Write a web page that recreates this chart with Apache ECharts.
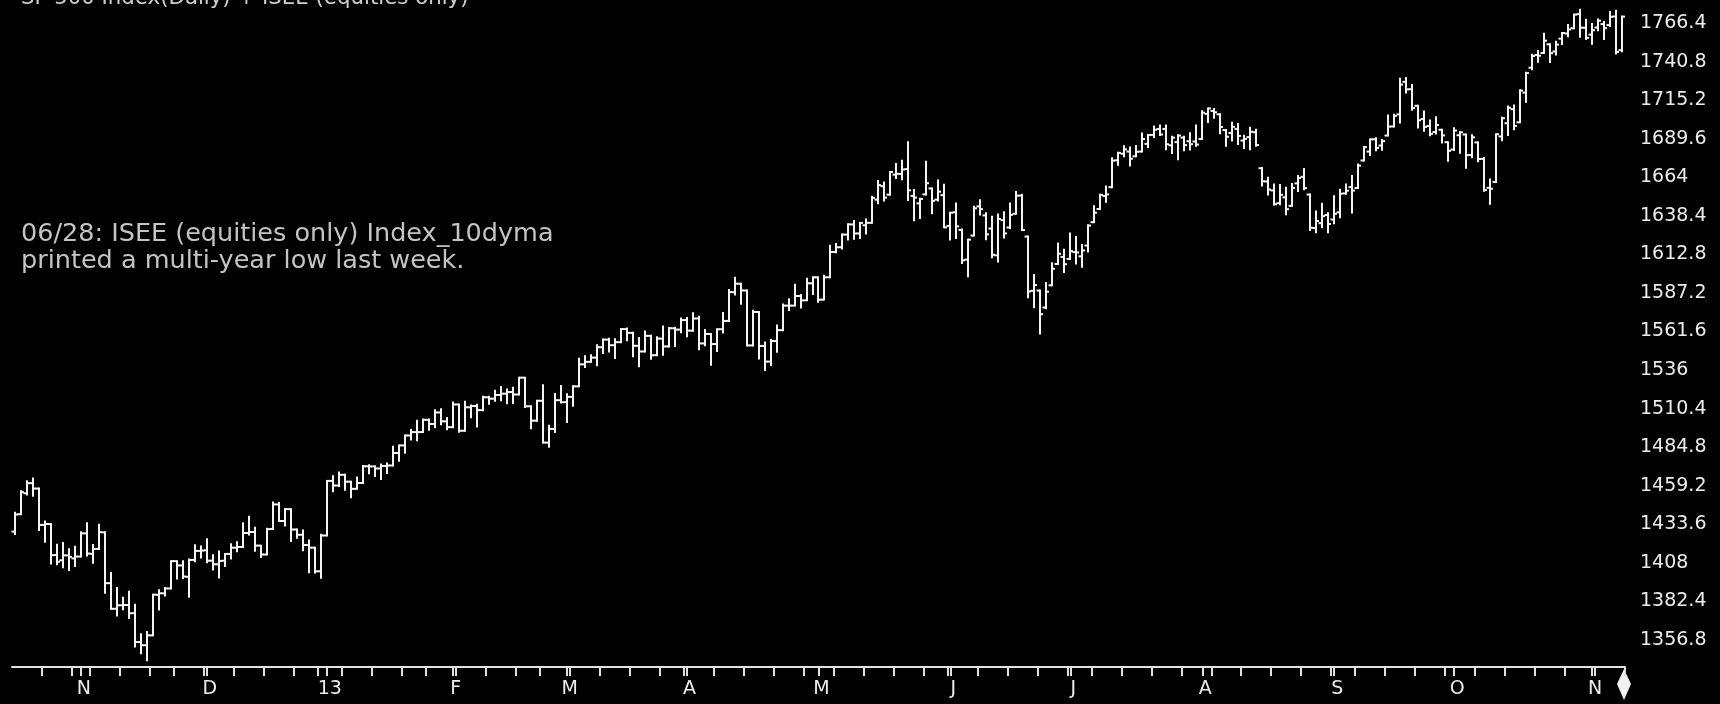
<!DOCTYPE html>
<html><head><meta charset="utf-8">
<script src="https://cdn.jsdelivr.net/npm/echarts@6/dist/echarts.min.js"></script>
<style>html,body{margin:0;padding:0;background:#000;}#c{width:1720px;height:704px;}</style>
</head><body><div id="c"></div>
<script>
// ---- data ----
const tradingDays = {
  '2012-10': [15,16,17,18,19,22,23,24,25,26,31],
  '2012-11': [1,2,5,6,7,8,9,12,13,14,15,16,19,20,21,23,26,27,28,29,30],
  '2012-12': [3,4,5,6,7,10,11,12,13,14,17,18,19,20,21,24,26,27,28,31],
  '2013-01': [2,3,4,7,8,9,10,11,14,15,16,17,18,22,23,24,25,28,29,30,31],
  '2013-02': [1,4,5,6,7,8,11,12,13,14,15,19,20,21,22,25,26,27,28],
  '2013-03': [1,4,5,6,7,8,11,12,13,14,15,18,19,20,21,22,25,26,27,28],
  '2013-04': [1,2,3,4,5,8,9,10,11,12,15,16,17,18,19,22,23,24,25,26,29,30],
  '2013-05': [1,2,3,6,7,8,9,10,13,14,15,16,17,20,21,22,23,24,28,29,30,31],
  '2013-06': [3,4,5,6,7,10,11,12,13,14,17,18,19,20,21,24,25,26,27,28],
  '2013-07': [1,2,3,5,8,9,10,11,12,15,16,17,18,19,22,23,24,25,26,29,30,31],
  '2013-08': [1,2,5,6,7,8,9,12,13,14,15,16,19,20,21,22,23,26,27,28,29,30],
  '2013-09': [3,4,5,6,9,10,11,12,13,16,17,18,19,20,23,24,25,26,27,30],
  '2013-10': [1,2,3,4,7,8,9,10,11,14,15,16,17,18,21,22,23,24,25,28,29,30,31],
  '2013-11': [1,4,5,6,7,8]
};
const monthLabels = ['N','D','13','F','M','A','M','J','J','A','S','O','N'];
const yTickLabels = [1356.8,1382.4,1408,1433.6,1459.2,1484.8,1510.4,1536,1561.6,1587.2,1612.8,1638.4,1664,1689.6,1715.2,1740.8,1766.4];

const openP = [
1428.75,1440.31,1454.22,1460.94,1457.34,1433.21,1433.74,1413.20,1409.74,1412.97,1410.99,
1412.20,1427.59,1414.02,1417.26,1428.27,1394.53,1377.55,1379.86,1380.03,1374.64,1355.41,1353.36,1359.88,1386.82,1387.79,1391.03,1409.15,1406.29,1398.77,1409.96,1415.95,
1416.34,1409.46,1407.05,1409.43,1413.95,1418.07,1418.55,1427.84,1428.48,1419.45,1413.54,1430.47,1446.79,1435.81,1443.67,1430.15,1426.66,1419.83,1418.10,1402.43,
1426.19,1462.42,1459.37,1466.47,1461.89,1457.15,1461.02,1472.12,1472.05,1470.67,1472.33,1472.63,1480.95,1485.98,1492.56,1494.81,1494.82,1502.96,1500.18,1507.84,1501.96,
1498.11,1513.17,1495.71,1511.29,1512.12,1509.39,1517.93,1517.01,1519.43,1520.33,1521.38,1519.79,1530.94,1511.95,1502.42,1515.60,1487.85,1496.94,1515.99,
1514.68,1518.20,1525.20,1539.79,1541.46,1544.26,1551.15,1556.22,1552.48,1554.52,1563.21,1560.70,1552.10,1548.34,1558.71,1545.90,1556.89,1551.69,1563.75,1562.86,
1569.18,1562.17,1570.25,1553.69,1559.98,1553.26,1563.11,1568.61,1587.73,1593.30,1588.84,1552.36,1574.57,1552.03,1541.61,1555.25,1562.50,1578.78,1578.78,1585.16,1582.34,1593.58,
1597.55,1582.77,1597.60,1614.40,1617.55,1625.95,1632.69,1626.69,1632.10,1633.75,1649.13,1658.07,1652.45,1665.71,1666.20,1669.39,1651.62,1646.67,1652.63,1656.57,1649.14,1652.13,
1631.71,1640.73,1629.05,1609.29,1625.27,1644.67,1638.64,1629.94,1612.15,1635.52,1630.64,1639.77,1651.83,1624.62,1588.62,1588.77,1577.52,1592.27,1606.44,1611.12,
1609.78,1614.29,1611.48,1618.65,1634.20,1642.89,1651.56,1657.41,1675.26,1679.59,1681.05,1677.91,1681.05,1686.15,1692.09,1696.06,1696.06,1685.21,1687.31,1690.32,1687.92,1687.76,
1689.42,1706.10,1708.01,1705.79,1695.30,1693.35,1696.10,1688.37,1690.65,1693.88,1670.00,1661.22,1655.25,1646.81,1650.66,1645.03,1659.92,1664.29,1652.54,1630.25,1633.50,1638.89,
1635.95,1640.72,1653.28,1657.44,1656.85,1675.11,1681.04,1689.21,1685.04,1691.70,1697.73,1705.74,1727.34,1722.44,1711.44,1702.60,1698.02,1694.05,1695.52,1687.26,
1682.41,1691.90,1692.35,1678.79,1687.15,1676.22,1656.99,1660.88,1691.09,1699.86,1709.17,1700.49,1720.17,1736.72,1745.20,1746.48,1752.27,1747.48,1756.01,1759.42,1762.93,1772.27,1763.24,
1758.70,1763.40,1765.67,1765.00,1770.74,1748.37
];
const highP = [
1441.31,1455.51,1462.20,1464.02,1457.34,1435.46,1433.74,1420.04,1421.12,1417.09,1418.76,
1428.35,1434.27,1419.90,1433.38,1428.27,1401.23,1391.39,1384.87,1388.81,1380.13,1360.62,1362.03,1386.89,1389.77,1391.25,1409.16,1409.15,1409.01,1410.31,1419.70,1418.86,
1423.73,1413.14,1415.56,1413.95,1420.34,1421.64,1434.27,1438.59,1431.36,1419.45,1430.67,1448.00,1447.75,1443.70,1443.67,1430.15,1429.42,1422.80,1418.10,1426.74,
1462.43,1465.47,1467.94,1466.47,1461.89,1464.73,1472.30,1472.75,1472.05,1473.31,1473.96,1485.16,1485.98,1492.56,1496.13,1502.27,1503.26,1503.23,1509.35,1509.94,1504.19,
1514.41,1513.17,1514.96,1512.53,1512.90,1518.31,1518.31,1522.29,1524.69,1523.14,1524.24,1530.94,1530.94,1511.95,1515.64,1525.84,1498.99,1520.08,1525.34,
1519.99,1525.27,1543.47,1545.25,1545.78,1552.48,1556.27,1556.77,1556.39,1563.32,1563.62,1560.70,1557.25,1561.56,1558.71,1557.74,1564.91,1563.95,1564.07,1570.28,
1570.57,1573.66,1571.47,1562.60,1559.98,1563.07,1573.89,1589.07,1597.35,1593.30,1588.84,1575.35,1574.57,1554.38,1555.89,1565.55,1579.58,1583.00,1592.64,1585.78,1596.65,1597.57,
1597.55,1598.60,1618.46,1619.77,1626.03,1632.78,1635.01,1633.70,1636.00,1651.10,1661.49,1660.51,1667.47,1672.84,1674.93,1687.18,1655.50,1649.78,1674.21,1656.57,1661.91,1658.99,
1640.42,1646.53,1629.31,1622.56,1644.40,1648.69,1640.13,1637.71,1639.25,1640.80,1646.50,1654.19,1652.45,1624.62,1599.19,1588.77,1593.79,1606.83,1620.07,1615.94,
1626.61,1624.26,1618.97,1632.07,1644.68,1652.33,1657.92,1676.63,1680.19,1684.51,1683.73,1684.75,1693.12,1692.09,1697.61,1698.38,1698.38,1690.94,1691.85,1690.92,1693.19,1698.43,
1707.85,1709.67,1709.24,1705.79,1695.30,1700.18,1699.42,1691.49,1696.81,1695.52,1670.20,1663.60,1659.18,1658.92,1656.99,1659.55,1664.85,1669.51,1652.54,1641.18,1646.41,1640.08,
1651.35,1655.72,1659.17,1664.83,1672.40,1684.09,1689.13,1689.97,1688.73,1704.95,1705.52,1729.44,1729.86,1725.23,1711.44,1707.63,1701.71,1703.85,1695.52,1687.26,
1696.55,1693.87,1692.35,1691.94,1687.15,1676.79,1662.47,1692.56,1703.44,1711.03,1711.57,1721.76,1733.45,1745.31,1747.79,1759.33,1752.27,1753.94,1759.82,1764.99,1772.09,1775.22,1768.53,
1765.67,1768.78,1767.03,1773.74,1774.54,1770.78
];
const lowP = [
1427.24,1440.31,1453.35,1452.63,1429.85,1422.06,1407.56,1407.10,1405.14,1403.28,1405.95,
1412.20,1412.91,1408.13,1417.26,1388.14,1377.51,1373.03,1377.19,1371.39,1352.50,1348.05,1343.35,1359.88,1377.04,1386.39,1391.03,1397.68,1398.03,1385.43,1409.04,1411.63,
1408.46,1403.65,1398.23,1405.93,1410.90,1415.64,1418.55,1426.76,1416.00,1411.88,1413.54,1430.47,1435.80,1432.82,1422.58,1424.66,1416.43,1401.80,1401.58,1398.11,
1426.19,1455.53,1458.99,1456.62,1451.64,1457.15,1461.02,1467.58,1465.69,1463.76,1467.60,1472.63,1475.81,1481.16,1489.90,1489.46,1494.82,1496.33,1498.09,1500.11,1496.76,
1498.11,1495.02,1495.71,1504.71,1498.49,1509.39,1513.61,1515.61,1515.93,1514.02,1514.14,1519.79,1511.41,1497.29,1502.42,1487.85,1485.01,1494.88,1514.46,
1501.48,1512.29,1525.20,1538.11,1541.46,1539.19,1547.36,1548.24,1544.00,1554.52,1555.74,1545.13,1538.57,1548.34,1543.55,1545.90,1546.22,1551.69,1551.90,1561.08,
1558.47,1562.17,1549.80,1552.52,1539.50,1548.63,1560.92,1568.61,1586.17,1579.97,1552.28,1552.36,1543.69,1536.03,1539.40,1548.19,1562.50,1575.80,1578.78,1577.56,1582.34,1586.50,
1581.28,1582.77,1597.60,1614.21,1616.64,1622.70,1623.09,1623.71,1626.74,1633.75,1646.68,1648.60,1652.45,1663.52,1662.67,1648.86,1635.53,1636.88,1652.63,1640.05,1648.61,1630.74,
1622.72,1623.62,1607.09,1598.23,1625.27,1639.26,1622.92,1610.92,1608.07,1623.96,1630.34,1639.77,1628.91,1584.32,1577.70,1560.33,1577.09,1592.27,1606.44,1601.06,
1609.78,1606.77,1604.57,1614.71,1634.20,1642.89,1647.66,1657.41,1672.33,1677.89,1671.84,1677.91,1681.05,1684.08,1690.67,1692.13,1682.57,1680.07,1676.03,1681.86,1682.42,1684.94,
1689.42,1700.68,1703.55,1693.29,1684.91,1688.38,1686.02,1683.35,1682.62,1684.83,1658.59,1652.61,1645.84,1646.08,1639.43,1645.03,1654.81,1656.02,1629.05,1627.47,1630.88,1627.47,
1633.41,1637.41,1653.07,1640.62,1656.85,1675.11,1678.70,1681.96,1682.22,1691.70,1697.73,1700.35,1720.20,1708.89,1697.10,1694.90,1691.88,1693.11,1687.11,1674.99,
1682.07,1680.34,1670.36,1677.33,1674.70,1655.03,1646.47,1660.88,1688.52,1692.13,1695.93,1700.49,1714.12,1735.74,1740.67,1746.48,1740.50,1745.50,1752.45,1757.67,1762.93,1757.24,1755.72,
1752.70,1761.56,1755.76,1764.40,1746.20,1747.63
];
const closeP = [
1440.13,1454.92,1460.91,1457.34,1433.19,1433.82,1413.11,1408.75,1412.97,1411.94,1412.16,
1427.59,1414.20,1417.26,1428.39,1394.53,1377.51,1379.85,1380.03,1374.53,1355.49,1353.33,1359.88,1386.89,1387.81,1391.03,1409.15,1406.29,1398.94,1409.93,1415.95,1416.18,
1409.46,1407.05,1409.28,1413.94,1418.07,1418.55,1427.84,1428.48,1419.45,1413.58,1430.36,1446.79,1435.81,1443.69,1430.15,1426.66,1419.83,1418.10,1402.43,1426.19,
1462.42,1459.37,1466.47,1461.89,1457.15,1461.02,1472.12,1472.05,1470.68,1472.34,1472.63,1480.94,1485.98,1492.56,1494.81,1494.82,1502.96,1500.18,1507.84,1501.96,1498.11,
1513.17,1495.71,1511.29,1512.12,1509.39,1517.93,1517.01,1519.43,1520.33,1521.38,1519.79,1530.94,1511.95,1502.42,1515.60,1487.85,1496.94,1515.99,1514.68,
1518.20,1525.20,1539.79,1541.46,1544.26,1551.18,1556.22,1552.48,1554.52,1563.23,1560.70,1552.10,1548.34,1558.71,1545.80,1556.89,1551.69,1563.77,1562.85,1569.19,
1562.17,1570.25,1553.69,1559.98,1553.28,1563.07,1568.61,1587.73,1593.37,1588.85,1552.36,1574.57,1552.01,1541.61,1555.25,1562.50,1578.78,1578.79,1585.16,1582.24,1593.61,1597.57,
1582.70,1597.59,1614.42,1617.50,1625.96,1632.69,1626.67,1633.70,1633.77,1650.34,1658.78,1650.47,1667.47,1666.29,1669.16,1655.35,1650.51,1649.60,1660.06,1648.36,1654.41,1630.74,
1640.42,1631.38,1608.90,1622.56,1643.38,1642.81,1626.13,1612.52,1636.36,1626.73,1639.04,1651.81,1628.93,1588.19,1592.43,1573.09,1588.03,1603.26,1613.20,1606.28,
1614.96,1614.08,1615.41,1631.89,1640.46,1652.32,1652.62,1675.02,1680.19,1682.50,1676.26,1680.91,1689.37,1692.09,1695.53,1692.39,1685.94,1690.25,1691.65,1685.33,1685.96,1685.73,
1706.87,1709.67,1707.14,1697.37,1690.91,1697.48,1691.42,1689.47,1694.16,1685.39,1661.32,1655.83,1646.06,1652.35,1642.80,1656.96,1663.50,1656.78,1630.48,1634.96,1638.17,1632.97,
1639.77,1653.08,1655.08,1655.17,1671.71,1683.99,1689.13,1683.42,1687.99,1697.60,1704.76,1725.52,1722.34,1709.91,1701.84,1697.42,1692.77,1698.67,1691.75,1681.55,
1695.00,1693.87,1678.66,1690.50,1676.12,1655.45,1656.40,1692.56,1703.20,1710.14,1698.06,1721.54,1733.15,1744.50,1744.66,1754.67,1746.38,1752.07,1759.77,1762.11,1771.95,1763.31,1756.54,
1761.64,1767.93,1762.97,1770.49,1747.15,1770.61
];
const headerText = 'SP 500 Index(Daily) + ISEE (equities only)';
const noteText = '06/28: ISEE (equities only) Index_10dyma\nprinted a multi-year low last week.';

// ---- build ----
const dates = [];
Object.keys(tradingDays).forEach(function (ym) {
  tradingDays[ym].forEach(function (d) { dates.push(ym + '-' + String(d).padStart(2, '0')); });
});
const monthStart = {};
let mi = 0, prevYm = null;
dates.forEach(function (d, i) {
  const ym = d.slice(0, 7);
  if (prevYm !== null && ym !== prevYm) { monthStart[i] = monthLabels[mi++]; }
  prevYm = ym;
});
const weekStart = {};
dates.forEach(function (d, i) {
  if (i === 0) return;
  const a = new Date(dates[i - 1] + 'T00:00:00Z'), b = new Date(d + 'T00:00:00Z');
  if (b.getUTCDay() < a.getUTCDay() || (b - a) >= 7 * 864e5) weekStart[i] = true;
});
const barData = dates.map(function (d, i) { return [i, openP[i], highP[i], lowP[i], closeP[i]]; });

// layout anchors (pixels)
const gridBottomPx = 667, gridTopPx = 0;
const pxPerPt = (640 - 23) / (1766.4 - 1356.8);
const yMin = 1356.8 - (gridBottomPx - 640) / pxPerPt;
const yMax = 1356.8 + (640 - gridTopPx) / pxPerPt;

const BAR = '#f4f4f4', TXT = '#ececec', FONT = 'DejaVu Sans';

function renderItem(params, api) {
  const i = api.value(0);
  const pO = api.coord([i, api.value(1)]);
  const pH = api.coord([i, api.value(2)]);
  const pL = api.coord([i, api.value(3)]);
  const pC = api.coord([i, api.value(4)]);
  const x = Math.round(pH[0]);
  const half = api.size([1, 0])[0] / 2;
  const st = { stroke: BAR, lineWidth: 2 };
  return {
    type: 'group',
    children: [
      { type: 'line', shape: { x1: x, y1: pH[1] - 1, x2: x, y2: pL[1] + 1 }, style: st },
      { type: 'line', shape: { x1: x - half - 0.5, y1: pO[1], x2: x, y2: pO[1] }, style: st },
      { type: 'line', shape: { x1: x, y1: pC[1], x2: x + half, y2: pC[1] }, style: st }
    ]
  };
}

const chart = echarts.init(document.getElementById('c'), null, { renderer: 'canvas' });
chart.setOption({
  backgroundColor: '#000000',
  animation: false,
  grid: { left: 12, right: 95, top: gridTopPx, bottom: 704 - gridBottomPx, containLabel: false, outerBoundsMode: 'none' },
  xAxis: [
    {
      type: 'category', data: dates, boundaryGap: true, position: 'bottom',
      axisLine: { show: true, lineStyle: { color: '#e0e0e0', width: 2 } },
      axisTick: { show: true, interval: function (idx) { return !!weekStart[idx]; }, length: 9, lineStyle: { color: '#e0e0e0', width: 2 } },
      axisLabel: { show: false }, splitLine: { show: false }
    },
    {
      type: 'category', data: dates, boundaryGap: true, position: 'bottom',
      axisLine: { show: false },
      axisTick: { show: true, alignWithLabel: true, interval: function (idx) { return monthStart[idx] !== undefined; }, length: 9, lineStyle: { color: '#e0e0e0', width: 2 } },
      axisLabel: {
        show: true, interval: function (idx) { return monthStart[idx] !== undefined; },
        formatter: function (v, idx) { return monthStart[idx] || ''; },
        color: TXT, fontSize: 19, fontFamily: FONT, margin: 13, padding: [0, 0, 0, 6]
      },
      splitLine: { show: false }
    }
  ],
  yAxis: {
    type: 'value', position: 'right', min: yMin, max: yMax,
    axisLine: { show: false }, axisTick: { show: false }, splitLine: { show: false },
    axisLabel: {
      customValues: yTickLabels,
      formatter: function (v) { return String(v); },
      color: TXT, fontSize: 19, fontFamily: FONT, margin: 15
    }
  },
  series: [{
    type: 'custom', renderItem: renderItem, data: barData,
    encode: { x: 0, y: [1, 2, 3, 4] }, xAxisIndex: 0, yAxisIndex: 0, clip: false
  }],
  graphic: [
    { type: 'text', x: 21, y: -2, silent: true,
      style: { text: headerText, fill: '#cfcfcf', fontSize: 21.3, fontFamily: FONT, verticalAlign: 'middle' } },
    { type: 'text', x: 21, y: 221, silent: true,
      style: { text: noteText, fill: '#c4c4c4', fontSize: 25.5, fontFamily: FONT, lineHeight: 27, verticalAlign: 'top' } },
    { type: 'polygon', silent: true,
      shape: { points: [[1624, 669], [1631, 684], [1624, 700], [1617, 684]] },
      style: { fill: '#f0f0f0' } }
  ]
});
</script>
</body></html>
